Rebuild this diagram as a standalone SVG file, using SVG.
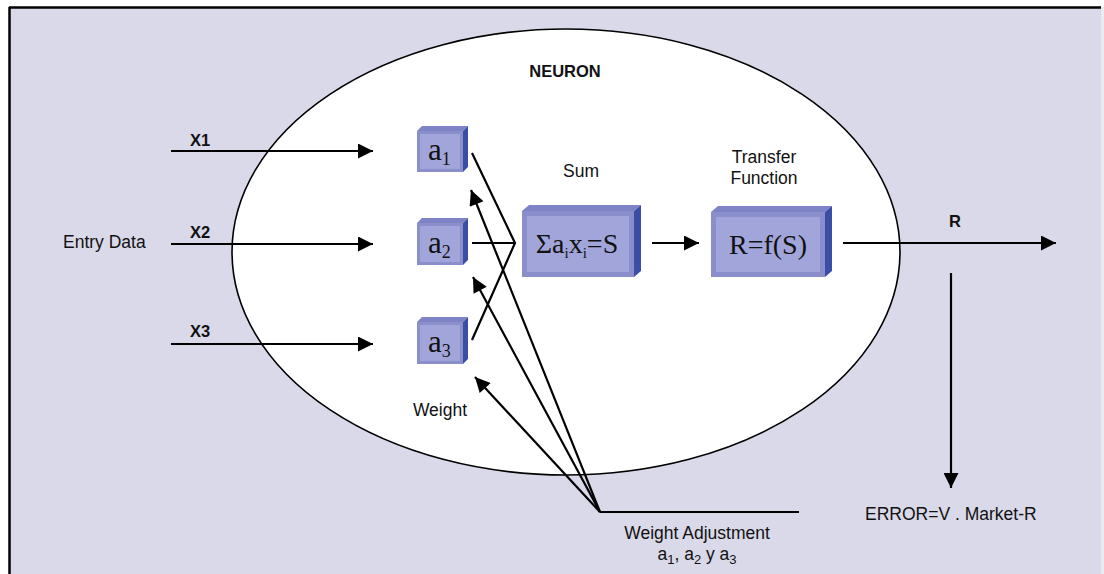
<svg xmlns="http://www.w3.org/2000/svg" width="1104" height="574" viewBox="0 0 1104 574">
<defs>
<marker id="ah" viewBox="0 0 10 10" refX="10" refY="5" markerWidth="18" markerHeight="15" markerUnits="userSpaceOnUse" orient="auto">
<path d="M0,0 L10,5 L0,10 z" fill="#000"/>
</marker>
</defs>
<style>
.lbl{font-family:"Liberation Sans",Arial,sans-serif;font-size:17.5px;fill:#111}
.b{font-weight:bold;font-size:16.5px}
.ser{font-family:"Liberation Serif","Times New Roman",serif;fill:#111}
.ln{stroke:#000;stroke-width:2.2;fill:none}
.face{fill:#8a8fcb}
.inner{fill:#a2a5da}
.top{fill:#7d83c4}
.side{fill:#3a4ea6}
</style>
<rect x="0" y="0" width="1104" height="574" fill="#fff"/>
<rect x="9" y="7" width="1092" height="567" fill="#dad9e9"/>
<rect x="1101" y="7" width="3" height="567" fill="#ebebf0"/>
<line x1="9" y1="7.5" x2="1101" y2="7.5" stroke="#000" stroke-width="2.5"/>
<line x1="9.5" y1="7" x2="9.5" y2="574" stroke="#000" stroke-width="2.5"/>
<ellipse id="neuron" cx="566" cy="252" rx="334" ry="223" fill="#fff" stroke="#000" stroke-width="1.6"/>
<text class="lbl b" x="565" y="77" text-anchor="middle">NEURON</text>

<g id="a1">
<polygon class="top" points="417,131 422,126 468,126 463,131"/>
<polygon class="side" points="463,131 468,126 468,167 463,172"/>
<rect class="face" x="417" y="131" width="46" height="41"/>
<rect class="inner" x="420" y="134" width="40" height="35"/>
<text class="ser" x="428" y="160" font-size="31">a<tspan font-size="18" dy="5">1</tspan></text>
</g>
<g id="a2">
<polygon class="top" points="417,223 422,218 468,218 463,223"/>
<polygon class="side" points="463,223 468,218 468,260 463,265"/>
<rect class="face" x="417" y="223" width="46" height="42"/>
<rect class="inner" x="420" y="226" width="40" height="36"/>
<text class="ser" x="428" y="253" font-size="31">a<tspan font-size="18" dy="5">2</tspan></text>
</g>
<g id="a3">
<polygon class="top" points="417,322 422,317 468,317 463,322"/>
<polygon class="side" points="463,322 468,317 468,359 463,364"/>
<rect class="face" x="417" y="322" width="46" height="42"/>
<rect class="inner" x="420" y="325" width="40" height="36"/>
<text class="ser" x="428" y="352" font-size="31">a<tspan font-size="18" dy="5">3</tspan></text>
</g>
<g id="sum">
<text class="lbl" x="581" y="177" text-anchor="middle">Sum</text>
<polygon class="top" points="522,211 529,205 641,205 634,211"/>
<polygon class="side" points="634,211 641,205 641,271 634,277"/>
<rect class="face" x="522" y="211" width="112" height="66"/>
<rect class="inner" x="527" y="216" width="102" height="56"/>
<text class="ser" x="577" y="253" font-size="28" text-anchor="middle">Σa<tspan font-size="15" dy="5">i</tspan><tspan dy="-5">x</tspan><tspan font-size="15" dy="5">i</tspan><tspan dy="-5">=S</tspan></text>
</g>
<g id="transfer">
<text class="lbl" x="764" y="163" text-anchor="middle">Transfer</text>
<text class="lbl" x="764" y="184" text-anchor="middle">Function</text>
<polygon class="top" points="711,212 718,206 832,206 825,212"/>
<polygon class="side" points="825,212 832,206 832,271 825,277"/>
<rect class="face" x="711" y="212" width="114" height="65"/>
<rect class="inner" x="716" y="217" width="104" height="55"/>
<text class="ser" x="768" y="254" font-size="28" text-anchor="middle">R=f(S)</text>
</g>
<g id="entry">
<text class="lbl" x="63" y="248">Entry Data</text>
<text class="lbl b" x="200" y="146" text-anchor="middle">X1</text>
<text class="lbl b" x="200" y="238" text-anchor="middle">X2</text>
<text class="lbl b" x="200" y="337" text-anchor="middle">X3</text>
</g>
<g id="weight">
<text class="lbl" x="440" y="416" text-anchor="middle">Weight</text>
</g>
<g id="adjust">
<text class="lbl" x="697" y="539" text-anchor="middle">Weight Adjustment</text>
<text class="lbl" x="697" y="560" text-anchor="middle">a<tspan font-size="13" dy="4">1</tspan><tspan dy="-4">, a</tspan><tspan font-size="13" dy="4">2</tspan><tspan dy="-4"> y a</tspan><tspan font-size="13" dy="4">3</tspan></text>
</g>
<g id="output">
<text class="lbl b" x="955" y="227" text-anchor="middle">R</text>
<text class="lbl" x="865" y="520">ERROR=V . Market-R</text>
</g>
<g id="connectors">
<line class="ln" x1="171" y1="151" x2="373" y2="151" marker-end="url(#ah)"/>
<line class="ln" x1="171" y1="244" x2="373" y2="244" marker-end="url(#ah)"/>
<line class="ln" x1="171" y1="344" x2="373" y2="344" marker-end="url(#ah)"/>
<polyline class="ln" points="472,153 515,243 472,340"/>
<line class="ln" x1="472" y1="243" x2="515" y2="243"/>
<line class="ln" x1="652" y1="243" x2="699" y2="243" marker-end="url(#ah)"/>
<line class="ln" x1="843" y1="243" x2="1056" y2="243" marker-end="url(#ah)"/>
<line class="ln" x1="951" y1="273" x2="951" y2="488" marker-end="url(#ah)"/>
<line class="ln" x1="799" y1="512" x2="600" y2="512"/>
<line class="ln" x1="600" y1="512" x2="471" y2="190" marker-end="url(#ah)"/>
<line class="ln" x1="600" y1="512" x2="473" y2="277" marker-end="url(#ah)"/>
<line class="ln" x1="600" y1="512" x2="475" y2="377" marker-end="url(#ah)"/>
</g>
</svg>
